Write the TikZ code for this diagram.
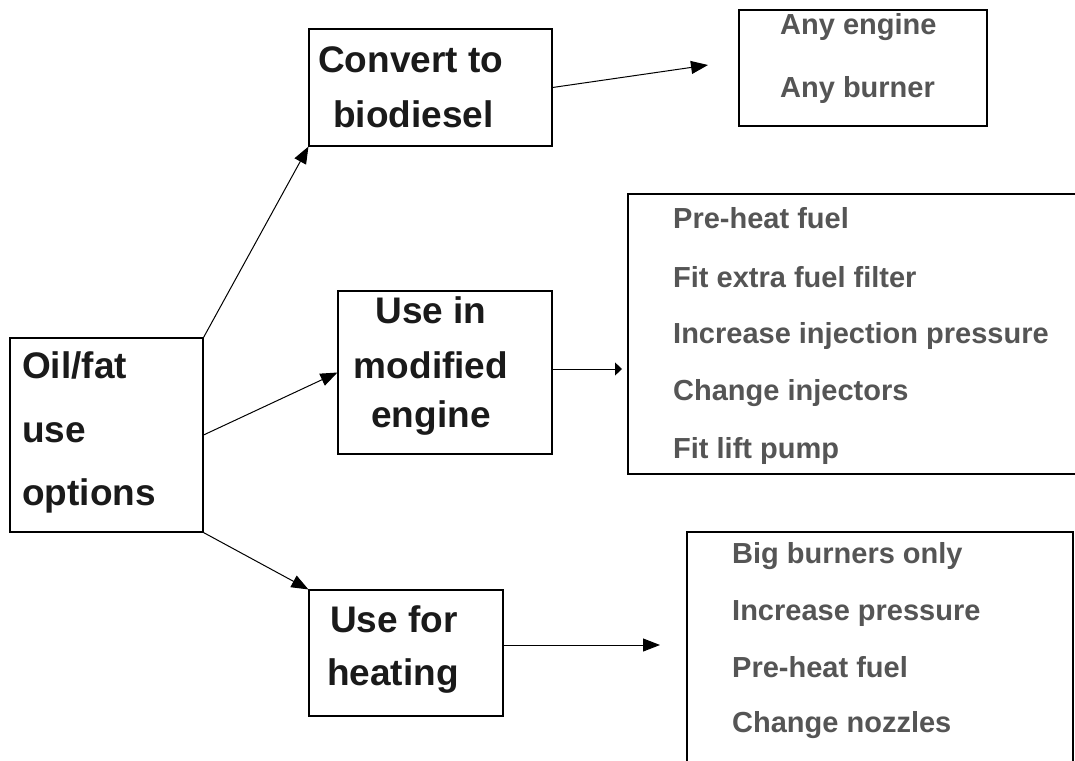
\documentclass[tikz,border=0pt]{standalone}
\usepackage{fontspec}
\setmainfont{Liberation Sans}
\usetikzlibrary{arrows.meta}
\definecolor{headtext}{HTML}{1A1A1A}
\definecolor{listtext}{HTML}{555555}
\tikzset{
  box/.style={draw, line width=1.1pt, inner sep=0pt},
  head/.style={anchor=base west, inner sep=0pt, text=headtext, font=\bfseries\fontsize{37}{40}\selectfont},
  item/.style={anchor=base west, inner sep=0pt, text=listtext, font=\bfseries\fontsize{29}{32}\selectfont},
  link/.style={line width=1pt, -{Triangle[length=17pt,width=13pt]}},
}
\begin{document}
\begin{tikzpicture}[x=1pt,y=-1pt]
\clip (0,0) rectangle (1075,760);
\fill[white] (0,0) rectangle (1075,760);

\node[box, minimum width=193, minimum height=194] (oil) at (106.5,435) {};
\node[box, minimum width=243, minimum height=117] (conv) at (430.5,87.5) {};
\node[box, minimum width=214, minimum height=163] (mod) at (445,372.5) {};
\node[box, minimum width=194, minimum height=126] (heat) at (406,653) {};
\node[box, minimum width=248, minimum height=116] (any) at (863,68) {};
\node[box, minimum width=480, minimum height=280] (modlist) at (868,334) {};
\node[box, minimum width=386, minimum height=260] (heatlist) at (880,662) {};

\node[head] (oilA) at (22,378) {Oil/fat};
\node[head] (oilB) at (22,442) {use};
\node[head] (oilC) at (22,505) {options};

\node[head] (convA) at (318,72) {Convert to};
\node[head] (convB) at (333,127) {biodiesel};

\node[head, anchor=base] (modA) at (431,323) {Use in};
\node[head, anchor=base] (modB) at (431,378) {modified};
\node[head, anchor=base] (modC) at (431,427) {engine};

\node[head] (heatA) at (330,632) {Use for};
\node[head] (heatB) at (327,685) {heating};

\node[item] (anyA) at (780,35) {Any engine};
\node[item] (anyB) at (780,97) {Any burner};

\node[item] (modlA) at (673,228) {Pre-heat fuel};
\node[item] (modlB) at (673,287) {Fit extra fuel filter};
\node[item] (modlC) at (673,343) {Increase injection pressure};
\node[item] (modlD) at (673,400) {Change injectors};
\node[item] (modlE) at (673,458) {Fit lift pump};

\node[item] (heatlA) at (732,563) {Big burners only};
\node[item] (heatlB) at (732,620) {Increase pressure};
\node[item] (heatlC) at (732,677) {Pre-heat fuel};
\node[item] (heatlD) at (732,732) {Change nozzles};

% arrow ends
\coordinate (anyin) at (708,65);
\coordinate (modin) at (622,369);
\coordinate (heatin) at (660,645);

\draw[link] (oil.north east) -- (conv.south west);
\draw[link] (oil.east) -- (mod.west);
\draw[link] (oil.south east) -- (heat.north west);
\draw[link] (conv.east) -- (anyin);
\draw[line width=1pt, -{Triangle[length=7pt,width=13pt]}] (mod.east |- modin) -- (modin);
\draw[link] (heat.east |- heatin) -- (heatin);
\end{tikzpicture}
\end{document}
